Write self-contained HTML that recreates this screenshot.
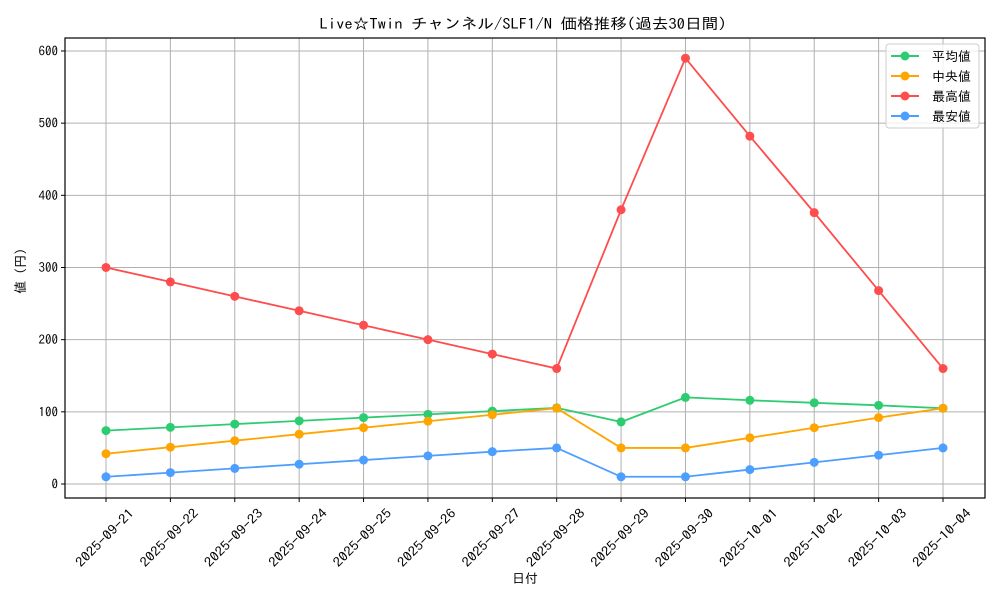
<!DOCTYPE html>
<html><head><meta charset="utf-8"><style>
body{margin:0;background:#fff}
svg text{font-family:"IPAGothic","Liberation Sans","Noto Sans CJK JP",sans-serif;fill:#000}
</style></head><body>
<svg id="s" width="1000" height="600" xmlns="http://www.w3.org/2000/svg">
<rect width="1000" height="600" fill="#fff"/>
<g id="grid"></g>
<g id="series"></g>
<rect x="65" y="38" width="920" height="460" fill="none" stroke="#000" stroke-width="1.2"/>
<g id="ticks"></g>
<text x="523" y="29" font-size="15" text-anchor="middle" textLength="407" lengthAdjust="spacingAndGlyphs">Live☆Twin チャンネル/SLF1/N 価格推移(過去30日間)</text>
<text x="525" y="583" font-size="13" text-anchor="middle">日付</text>
<text transform="translate(25,271) rotate(-90)" font-size="13" text-anchor="middle">値 (円)</text>
<g>
<rect x="886" y="44" width="93" height="84" rx="3" fill="#fff" fill-opacity="0.8" stroke="#ccc"/>
<line x1="891" y1="56" x2="919" y2="56" stroke="#2ecc71" stroke-width="2"/><circle cx="905" cy="56" r="4.5" fill="#2ecc71"/><text x="932" y="61" font-size="13">平均値</text>
<line x1="891" y1="76" x2="919" y2="76" stroke="#ffa500" stroke-width="2"/><circle cx="905" cy="76" r="4.5" fill="#ffa500"/><text x="932" y="81" font-size="13"> 中央値</text>
<line x1="891" y1="96" x2="919" y2="96" stroke="#ff4c4c" stroke-width="2"/><circle cx="905" cy="96" r="4.5" fill="#ff4c4c"/><text x="932" y="101" font-size="13">最高値</text>
<line x1="891" y1="116" x2="919" y2="116" stroke="#4d9fff" stroke-width="2"/><circle cx="905" cy="116" r="4.5" fill="#4d9fff"/><text x="932" y="121" font-size="13">最安値</text>
</g>
</svg>
<script>
var dates=["2025-09-21","2025-09-22","2025-09-23","2025-09-24","2025-09-25","2025-09-26","2025-09-27","2025-09-28","2025-09-29","2025-09-30","2025-10-01","2025-10-02","2025-10-03","2025-10-04"];
function X(i){return 106+i*64.385}
function Y(v){return 484-v*0.7217}
var ns="http://www.w3.org/2000/svg",g=document.getElementById('grid'),t=document.getElementById('ticks'),se=document.getElementById('series');
function el(p,n,a,txt){var e=document.createElementNS(ns,n);for(var k in a)e.setAttribute(k,a[k]);if(txt!=null)e.textContent=txt;p.appendChild(e);return e}
for(var i=0;i<14;i++){var x=X(i);el(g,'line',{x1:x,x2:x,y1:38,y2:498,stroke:'#b0b0b0','stroke-width':1});
el(t,'line',{x1:x,x2:x,y1:498,y2:502,stroke:'#000'});
el(t,'text',{'font-size':13,'text-anchor':'middle',textLength:76,lengthAdjust:'spacingAndGlyphs',transform:'translate('+(x+2)+',541) rotate(-45)'},dates[i]);}
for(var v=0;v<=600;v+=100){var y=Y(v);el(g,'line',{x1:65,x2:985,y1:y,y2:y,stroke:'#b0b0b0','stroke-width':1});
el(t,'line',{x1:61,x2:65,y1:y,y2:y,stroke:'#000'});el(t,'text',{x:58,y:y+4.5,'font-size':13,'text-anchor':'end'},String(v));}
var S=[["#2ecc71",[74,78.5,83,87.5,92,96.5,101,105.5,86,120,116,112.5,109,105]],
["#ffa500",[42,51,60,69,78,87,96,105,50,50,64,78,92,105]],
["#ff4c4c",[300,280,260,240,220,200,180,160,380,590,482,376,268,160]],
["#4d9fff",[10,15.8,21.6,27.4,33.2,39,44.8,50,10,10,20,30,40,50]]];
S.forEach(function(s){var p=s[1].map(function(v,i){return X(i)+','+Y(v)}).join(' ');
el(se,'polyline',{points:p,fill:'none',stroke:s[0],'stroke-width':1.8});
s[1].forEach(function(v,i){el(se,'circle',{cx:X(i),cy:Y(v),r:4.5,fill:s[0]})});});
</script>
</body></html>
